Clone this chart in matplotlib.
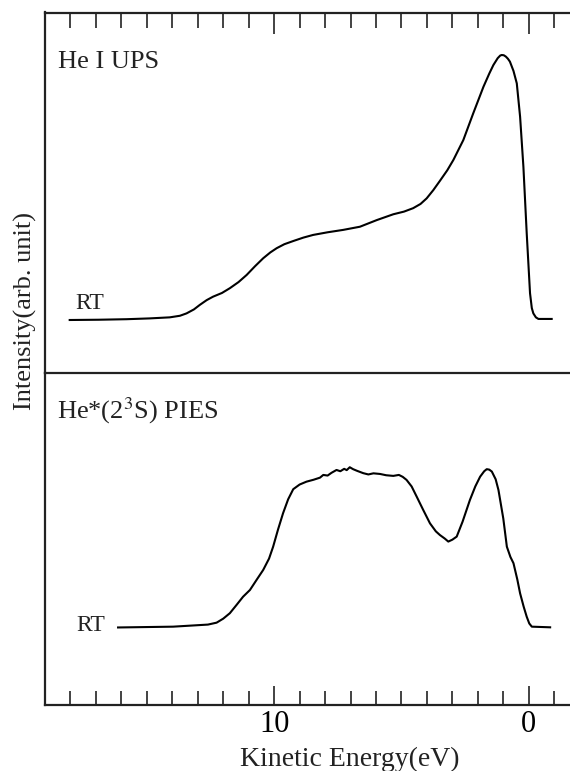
import matplotlib
matplotlib.use("Agg")
import matplotlib.pyplot as plt
from matplotlib.ticker import MultipleLocator, FixedLocator

plt.rcParams['font.family'] = ['Liberation Serif', 'DejaVu Serif']
plt.rcParams['mathtext.fontset'] = 'stix'

# He I UPS spectrum (kinetic energy eV, intensity arb. unit)
ups_energy = [18.03, 16.9, 15.8, 14.9, 14.1, 13.7, 13.44, 13.15, 12.92, 12.65, 12.4, 12.05,
              11.74, 11.4, 11.08, 10.75, 10.43, 10.15, 9.9, 9.6, 9.25, 8.85, 8.47, 7.9,
              7.29, 6.63, 5.97, 5.32, 4.9, 4.54, 4.25, 4.01, 3.75, 3.49, 3.2, 2.96,
              2.57, 2.18, 1.78, 1.55, 1.39, 1.22, 1.12, 1.06, 0.98, 0.9, 0.82, 0.74, 0.6, 0.47, 0.34,
              0.21, 0.08, -0.05, -0.12, -0.18, -0.28, -0.38, -0.9]
ups_intensity = [0.000, 0.001, 0.003, 0.006, 0.010, 0.016, 0.025, 0.040, 0.057, 0.075, 0.088, 0.102,
                 0.120, 0.143, 0.170, 0.203, 0.233, 0.255, 0.271, 0.286, 0.298, 0.311, 0.321, 0.331,
                 0.340, 0.352, 0.377, 0.399, 0.409, 0.422, 0.438, 0.459, 0.490, 0.525, 0.565, 0.604,
                 0.679, 0.780, 0.880, 0.930, 0.962, 0.988, 0.998, 1.000, 0.999, 0.994, 0.986, 0.975, 0.940, 0.893, 0.767,
                 0.578, 0.327, 0.101, 0.045, 0.025, 0.010, 0.004, 0.004]

# He*(2^3S) PIES spectrum
pies_energy = [16.13, 13.97, 12.6, 12.26, 12.0, 11.74, 11.48, 11.22, 10.95, 10.69, 10.43, 10.2,
               10.04, 9.85, 9.65, 9.45, 9.25, 9.0, 8.73, 8.45, 8.2, 8.07, 7.9, 7.75, 7.55,
               7.4, 7.25, 7.15, 7.03, 6.9, 6.75, 6.5, 6.3, 6.1, 5.84, 5.6, 5.32, 5.1, 4.95,
               4.8, 4.6, 4.4, 4.15, 3.88, 3.65, 3.49, 3.3, 3.16, 3.0, 2.83, 2.6, 2.31,
               2.1, 1.91, 1.75, 1.65, 1.55, 1.45, 1.3, 1.19, 1.0, 0.86, 0.72, 0.6, 0.45,
               0.34, 0.2, 0.08, -0.02, -0.12, -0.84]
pies_intensity = [0.000, 0.005, 0.018, 0.030, 0.055, 0.089, 0.140, 0.192, 0.234, 0.297, 0.359, 0.430,
                  0.504, 0.610, 0.713, 0.800, 0.863, 0.892, 0.910, 0.922, 0.935, 0.952, 0.948, 0.965, 0.983,
                  0.975, 0.990, 0.982, 1.000, 0.988, 0.978, 0.963, 0.955, 0.962, 0.958, 0.950, 0.946, 0.952, 0.940,
                  0.921, 0.880, 0.816, 0.735, 0.650, 0.600, 0.577, 0.555, 0.536, 0.548, 0.567, 0.660, 0.796,
                  0.880, 0.941, 0.975, 0.988, 0.985, 0.973, 0.925, 0.858, 0.680, 0.504, 0.440, 0.401, 0.300,
                  0.213, 0.130, 0.067, 0.025, 0.005, 0.001]

major_ticks = [10, 0]
tick_labels = ["10", "0"]

fig = plt.figure(figsize=(5.70, 7.71), dpi=100)
left, right = 45 / 570, 1.0
top_px, mid_px, bot_px = 12.5, 372.7, 704.7
top_y, mid_y, bot_y = 1 - top_px / 771, 1 - mid_px / 771, 1 - bot_px / 771
ax1 = fig.add_axes([left, mid_y, right - left, top_y - mid_y])
ax2 = fig.add_axes([left, bot_y, right - left, mid_y - bot_y])

lw_spine = 1.6
for ax in (ax1, ax2):
    ax.patch.set_visible(False)
    ax.set_xlim(19, -1.62)
    ax.spines['right'].set_visible(False)
    for s in ax.spines.values():
        s.set_linewidth(lw_spine)
        s.set_color('#222222')
    ax.set_yticks([])
    ax.xaxis.set_minor_locator(MultipleLocator(1))
    ax.xaxis.set_major_locator(FixedLocator(major_ticks))

ax1.plot(ups_energy, ups_intensity, color='black', lw=1.5)
ax1.set_ylim((320 - mid_px) / 265, (320 - top_px) / 265)
ax1.tick_params(axis='x', which='both', direction='in', top=True, bottom=False,
                labeltop=False, labelbottom=False, width=1.2, color='#222222')
ax1.tick_params(axis='x', which='major', length=15)
ax1.tick_params(axis='x', which='minor', length=11)

ax2.plot(pies_energy, pies_intensity, color='black', lw=1.5)
ax2.set_ylim(-0.482, 1.590)
ax2.spines['top'].set_visible(False)
ax2.tick_params(axis='x', which='both', direction='in', top=False, bottom=True,
                labelbottom=True, width=1.2, color='#222222', labelsize=22, pad=4)
ax2.tick_params(axis='x', which='major', length=14)
ax2.tick_params(axis='x', which='minor', length=10)
ax2.set_xticklabels(tick_labels)

fig.text(58 / 570, 1 - 68 / 771, "He I UPS", fontsize=19, va='baseline', ha='left', color='#222222')
fig.text(56.7 / 570, 1 - 418 / 771, r"He*(2$^{3}$S) PIES", fontsize=19, va='baseline', ha='left', color='#222222')
fig.text(75 / 570, 1 - 309 / 771, "RT", fontsize=17, va='baseline', ha='left', color='#222222')
fig.text(76 / 570, 1 - 631 / 771, "RT", fontsize=17, va='baseline', ha='left', color='#222222')
fig.text(349.5 / 570, 1 - 766 / 771, "Kinetic Energy(eV)", fontsize=20, va='baseline', ha='center', color='#222222')
fig.text(25 / 570, 1 - 311 / 771, "Intensity(arb. unit)", fontsize=19, rotation=90,
         va='center', ha='center', color='#222222')

fig.savefig("out.png", dpi=100)
